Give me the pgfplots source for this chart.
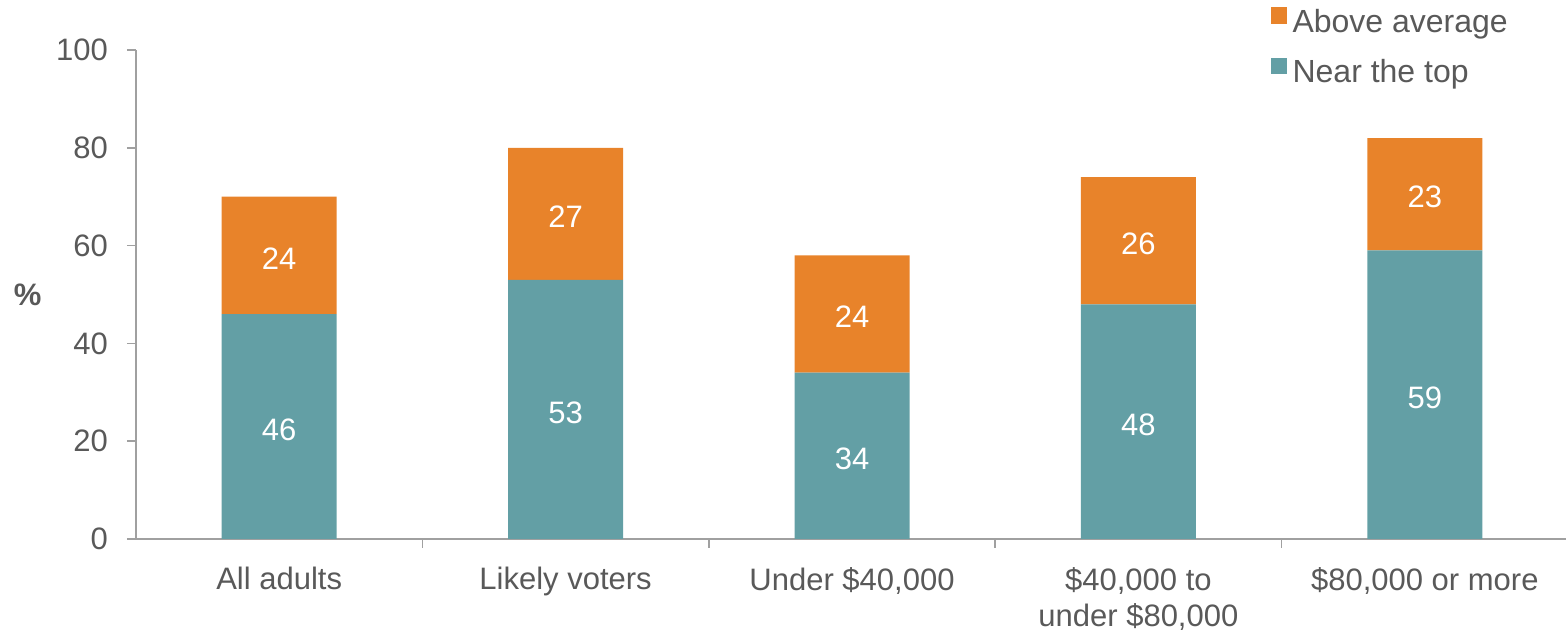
\documentclass[border=0pt]{standalone}
\usepackage{fontspec}
\setmainfont{Liberation Sans}
\usepackage{pgfplots}
\pgfplotsset{compat=1.18}
\definecolor{ppteal}{HTML}{639FA5}
\definecolor{pporange}{HTML}{E8832A}
\definecolor{txt}{HTML}{595959}
\definecolor{axisgray}{HTML}{A0A0A0}
\begin{document}
\begin{tikzpicture}[font=\fontsize{15.5}{18}\selectfont]
\begin{axis}[
  name=main,
  at={(0,0)}, anchor=south west,
  scale only axis, width=716pt, height=244.5pt,
  xmin=-0.5, xmax=4.5, ymin=0, ymax=100,
  ybar stacked, bar width=57.5pt,
  axis lines=left,
  axis line style={-, draw=axisgray, line width=0.75pt},
  tick style={draw=axisgray, line width=0.75pt},
  tick align=outside,
  major tick length=4.5pt,
  /pgf/number format/assume math mode=true,
  ticklabel style={font=\fontsize{15.5}{18}\selectfont},
  xtick={0.5,1.5,2.5,3.5}, xticklabels={},
  extra x ticks={0,1,2,3,4},
  extra x tick labels={All adults, Likely voters, {Under \$40,000}, {\$40,000 to\\under \$80,000}, {\$80,000 or more}},
  extra x tick style={major tick length=0pt, xticklabel style={align=center, text=txt, yshift=-10.5pt}},
  ytick={0,20,...,100},
  yticklabel style={text=txt, xshift=-6pt},
  ylabel={\textbf{\%}},
  ylabel style={rotate=-90, text=txt, xshift=-0.5pt},
  legend image code/.code={\fill[#1] (0pt,-0.5pt) rectangle (8pt,7.5pt);},
  reverse legend,
  legend style={at={(rel axis cs:0.792,1.092)}, anchor=north west, draw=none, fill=none,
    text=txt, row sep=8pt, inner sep=0pt, nodes={inner xsep=3pt},
    font=\fontsize{16}{18.5}\selectfont},
  legend cell align=left,
]
\addplot[fill=ppteal, draw=none] coordinates {(0,46) (1,53) (2,34) (3,48) (4,59)};
\addlegendentry{Near the top}
\addplot[fill=pporange, draw=none] coordinates {(0,24) (1,27) (2,24) (3,26) (4,23)};
\addlegendentry{Above average}
\end{axis}
\begin{axis}[
  at={(0,0)}, anchor=south west,
  scale only axis, width=716pt, height=244.5pt,
  xmin=-0.5, xmax=4.5, ymin=0, ymax=100,
  hide axis,
]
\addplot[only marks, mark=*, mark size=0pt, nodes near coords, point meta=explicit symbolic,
  nodes near coords style={anchor=center, text=white, yshift=-1.5pt, font=\fontsize{15.5}{18.5}\selectfont}]
  coordinates {(0,23) [46] (1,26.5) [53] (2,17) [34] (3,24) [48] (4,29.5) [59]
               (0,58) [24] (1,66.5) [27] (2,46) [24] (3,61) [26] (4,70.5) [23]};
\end{axis}
\pgfresetboundingbox
\path (-68pt,-45.5pt) rectangle (715pt,269.5pt);
\end{tikzpicture}
\end{document}
